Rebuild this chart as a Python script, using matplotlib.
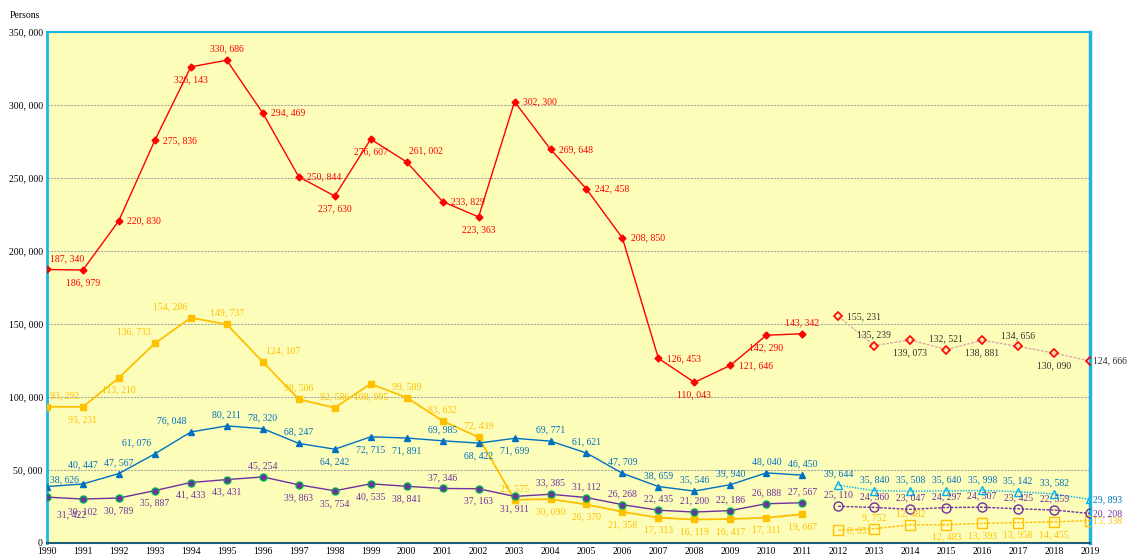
import matplotlib.pyplot as plt
import numpy as np

plt.rcParams['font.family'] = ['Liberation Serif', 'DejaVu Serif']

# actual values 1990-2011
years = list(range(1990, 2012))
red = [187340, 186979, 220830, 275836, 326143, 330686, 294469, 250844, 237630, 276607, 261002,
       233829, 223363, 302300, 269648, 242458, 208850, 126453, 110043, 121646, 142290, 143342]
orange = [93292, 93231, 113210, 136733, 154286, 149737, 124107, 98506, 92586, 108995, 99589,
          83632, 72439, 29575, 30090, 26370, 21358, 17313, 16119, 16417, 17311, 19667]
blue = [38626, 40447, 47567, 61076, 76048, 80211, 78320, 68247, 64242, 72715, 71891,
        69985, 68422, 71699, 69771, 61621, 47709, 38659, 35546, 39940, 48040, 46450]
purple = [31422, 30102, 30789, 35887, 41433, 43431, 45254, 39863, 35754, 40535, 38841,
          37346, 37163, 31911, 33385, 31112, 26268, 22435, 21200, 22186, 26888, 27567]

# 2012-2019
years2 = list(range(2012, 2020))
red2 = [155231, 135239, 139073, 132521, 138881, 134656, 130090, 124666]
orange2 = [8651, 9752, 12482, 12483, 13393, 13958, 14455, 15338]
blue2 = [39644, 35840, 35508, 35640, 35998, 35142, 33582, 29893]
purple2 = [25110, 24360, 23047, 24297, 24507, 23425, 22559, 20208]

# where each label goes: a=above b=below r=right e=right edge, ar=above right etc
red_pos = ['ar', 'b', 'r', 'r', 'b', 'a', 'r', 'r', 'b', 'b', 'ar',
           'r', 'b', 'r', 'r', 'r', 'r', 'r', 'b', 'r', 'b', 'a']
orange_pos = ['ar', 'b', 'b', 'al', 'al', 'a', 'ar', 'a', 'a', 'b', 'a',
              'a', 'a', 'a', 'b', 'b', 'b', 'b', 'b', 'b', 'b', 'b']
blue_pos = ['lo', 'aa', 'a', 'al', 'al', 'a', 'a', 'a', 'b', 'b', 'b',
            'a', 'b', 'b', 'a', 'a', 'a', 'a', 'a', 'a', 'a', 'a']
purple_pos = ['br', 'b', 'b', 'b', 'b', 'b', 'a', 'b', 'b', 'b', 'b',
              'a', 'b', 'b', 'a', 'a', 'a', 'a', 'a', 'a', 'a', 'a']
red2_pos = ['r', 'a', 'b', 'a', 'b', 'a', 'b', 'e']
orange2_pos = ['r', 'a', 'a', 'b', 'b', 'b', 'b', 'e']
blue2_pos = ['a', 'a', 'a', 'a', 'a', 'a', 'a', 'e']
purple2_pos = ['a', 'a', 'a', 'a', 'a', 'a', 'a', 'e']

offsets = {'a': (0, 8, 'center', 'center'), 'b': (0, -9, 'center', 'center'),
           'aa': (0, 14, 'center', 'center'), 'lo': (2, 5, 'left', 'center'),
           'r': (6, 0, 'left', 'center'), 'e': (2, 0, 'left', 'center'),
           'ar': (2, 8, 'left', 'center'), 'al': (-3, 8, 'right', 'center'),
           'br': (7, -13, 'left', 'center')}


def fmt(v):
    return '{:,}'.format(v).replace(',', ', ')


def labels(ax, xs, ys, pos, color):
    for x, y, p in zip(xs, ys, pos):
        dx, dy, ha, va = offsets[p]
        ax.annotate(fmt(y), (x, y), xytext=(dx, dy), textcoords='offset points',
                    ha=ha, va=va, fontsize=7, color=color, annotation_clip=False)


fig = plt.figure(figsize=(11.29, 5.56), dpi=100)
ax = fig.add_axes([0.0416, 0.0234, 0.9239, 0.919])
ax.set_facecolor('#FDFDBA')

ax.plot(years, red, color='#FF0000', lw=1, marker='D', ms=3.5, zorder=3)
ax.plot(years, orange, color='#FFC000', lw=1.3, marker='s', ms=5, zorder=3)
ax.plot(years, blue, color='#0070C0', lw=1, marker='^', ms=4.5, zorder=3)
ax.plot(years, purple, color='#7030A0', lw=1, marker='o', ms=5, mfc='#7030A0',
        mec='#00B050', mew=1, zorder=3)

ax.plot(years2, red2, color='#E0A8A8', lw=1, ls=(0, (2, 1)), marker='D', ms=4,
        mfc='none', mec='#FF0000', mew=1.2, zorder=3)
ax.plot(years2, orange2, color='#FFC000', lw=1, ls=(0, (2, 1)), marker='s', ms=6.5,
        mfc='none', mec='#FFC000', mew=1, zorder=3)
ax.plot(years2, blue2, color='#00B0F0', lw=1, ls=(0, (1, 1)), marker='^', ms=5.5,
        mfc='none', mec='#00B0F0', mew=1, zorder=3)
ax.plot(years2, purple2, color='#7030A0', lw=1, ls=(0, (2, 1)), marker='o', ms=6.5,
        mfc='none', mec='#7030A0', mew=1, zorder=3)

labels(ax, years, red, red_pos, '#FF0000')
labels(ax, years, orange, orange_pos, '#FFC000')
labels(ax, years, blue, blue_pos, '#0070C0')
labels(ax, years, purple, purple_pos, '#7030A0')
labels(ax, years2, red2, red2_pos, '#333333')
labels(ax, years2, orange2, orange2_pos, '#FFC000')
labels(ax, years2, blue2, blue2_pos, '#0070C0')
labels(ax, years2, purple2, purple2_pos, '#7030A0')

ax.set_xlim(1990, 2019)
ax.set_ylim(0, 350000)
ax.set_xticks(range(1990, 2020))
ax.set_yticks(np.arange(0, 350001, 50000))
ax.set_yticklabels([fmt(v) if v else '0' for v in range(0, 350001, 50000)])
ax.tick_params(labelsize=7, length=0, pad=3)
ax.grid(axis='y', ls=(0, (2, 1)), color='#A8A8A0', lw=0.8)
ax.set_axisbelow(True)

ax.spines['left'].set_color('#1EB4E6')
ax.spines['left'].set_linewidth(2)
ax.spines['top'].set_color('#1EB4E6')
ax.spines['top'].set_linewidth(1.5)
ax.spines['right'].set_color('#1EB4E6')
ax.spines['right'].set_linewidth(2.5)
ax.spines['bottom'].set_color('#1A5E7A')
ax.spines['bottom'].set_linewidth(1.5)

fig.text(0.009, 0.968, 'Persons', fontsize=7)

fig.savefig('out.png', dpi=100)
